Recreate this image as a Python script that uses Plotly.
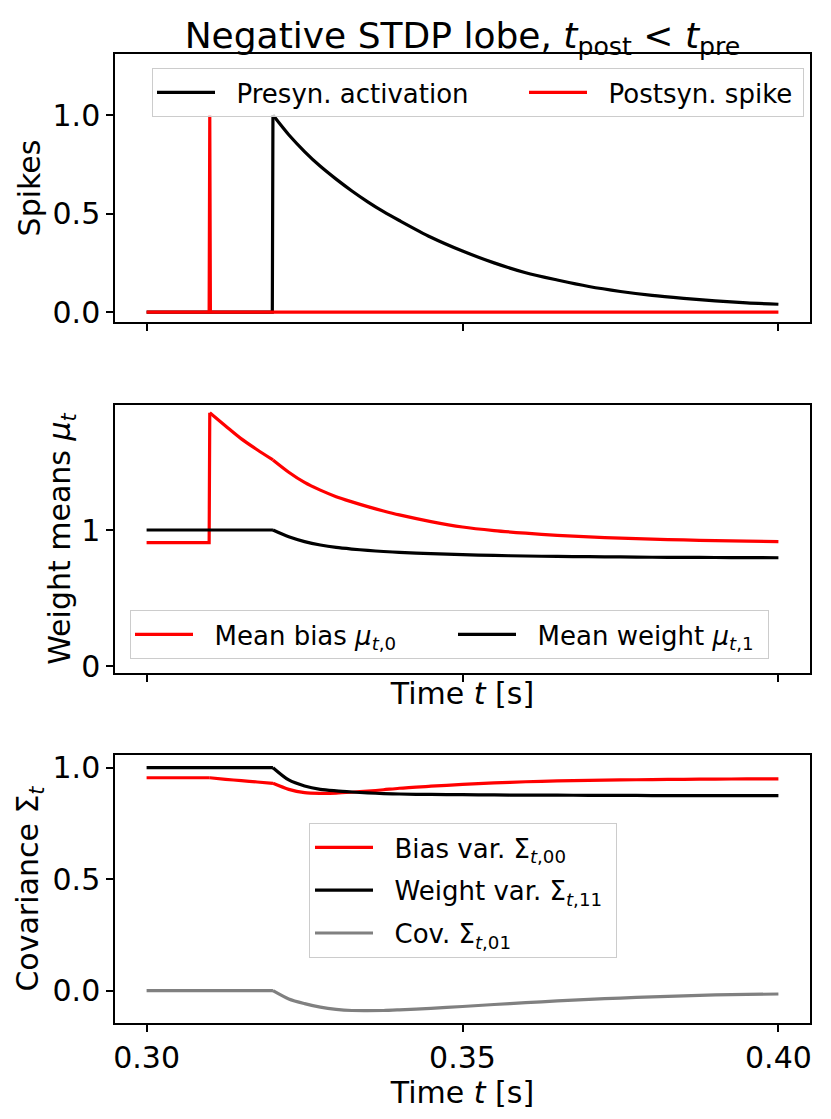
import plotly.graph_objects as go
from plotly.subplots import make_subplots

# --- data ---
t_pre = [0.30, 0.3199, 0.32, 0.3225, 0.325, 0.3275, 0.33, 0.3325, 0.335, 0.3375, 0.34, 0.345,
         0.35, 0.355, 0.36, 0.365, 0.37, 0.375, 0.38, 0.385, 0.39, 0.395, 0.40]
pre_act = [0.0, 0.0, 1.0, 0.90, 0.815, 0.74, 0.675, 0.615, 0.56, 0.51, 0.465, 0.38,
           0.31, 0.25, 0.20, 0.163, 0.13, 0.105, 0.085, 0.07, 0.057, 0.047, 0.04]

t_post = [0.30, 0.3099, 0.31, 0.3101, 0.40]
post_spike = [0.0, 0.0, 1.0, 0.0, 0.0]

t_w = [0.30, 0.3099, 0.31, 0.3125, 0.315, 0.3175, 0.32, 0.3225, 0.325, 0.3275, 0.33, 0.3325,
       0.335, 0.3375, 0.34, 0.345, 0.35, 0.355, 0.36, 0.365, 0.37, 0.375, 0.38, 0.385,
       0.39, 0.395, 0.40]
mu_bias = [0.907, 0.907, 1.862, 1.765, 1.67, 1.59, 1.515, 1.425, 1.35, 1.293, 1.245, 1.207,
           1.172, 1.14, 1.111, 1.062, 1.022, 0.996, 0.977, 0.961, 0.949, 0.94, 0.933, 0.927,
           0.922, 0.918, 0.914]
mu_weight = [1.0, 1.0, 1.0, 1.0, 1.0, 1.0, 1.0, 0.95, 0.915, 0.89, 0.872, 0.86,
             0.85, 0.842, 0.836, 0.826, 0.819, 0.813, 0.809, 0.806, 0.804, 0.802, 0.800, 0.799,
             0.798, 0.797, 0.796]

sig_bias = [0.955, 0.955, 0.955, 0.948, 0.942, 0.936, 0.930, 0.903, 0.888, 0.885, 0.886, 0.890,
            0.895, 0.901, 0.908, 0.917, 0.925, 0.932, 0.937, 0.941, 0.943, 0.945, 0.947, 0.948,
            0.949, 0.9495, 0.950]
sig_weight = [1.0, 1.0, 1.0, 1.0, 1.0, 1.0, 1.0, 0.945, 0.918, 0.903, 0.896, 0.891,
              0.887, 0.884, 0.882, 0.880, 0.879, 0.878, 0.877, 0.877, 0.876, 0.876, 0.875, 0.875,
              0.875, 0.875, 0.875]
sig_cov = [0.0, 0.0, 0.0, 0.0, 0.0, 0.0, 0.0, -0.037, -0.058, -0.074, -0.084, -0.089,
           -0.0895, -0.089, -0.086, -0.079, -0.071, -0.062, -0.054, -0.046, -0.039, -0.033, -0.028, -0.023,
           -0.019, -0.017, -0.015]

x_ticks = [0.30, 0.35, 0.40]
x_ticklabels = ['0.30', '0.35', '0.40']

W, H = 831, 1119
lw = 3.2
fnt = 'DejaVu Sans'
pad = '&nbsp;&nbsp;'

fig = make_subplots(rows=3, cols=1)


def add_curve(x, y, row, name, color, legend, cuts, lwidth=None):
    # straight pieces for steps/jumps, smooth pieces for the decays;
    # cuts = list of (start, stop, shape) index ranges into x/y
    for k, (a, b, shape) in enumerate(cuts):
        fig.add_trace(go.Scatter(x=x[a:b], y=y[a:b], mode='lines', name=pad + name,
                                 line=dict(color=color, width=lw, shape=shape, smoothing=0.8),
                                 legend=legend, legendgroup=name, showlegend=(k == 0),
                                 legendwidth=lwidth), row=row, col=1)


add_curve(t_pre, pre_act, 1, 'Presyn. activation', 'black', 'legend',
          [(0, 3, 'linear'), (2, None, 'spline')], lwidth=299)
add_curve(t_post, post_spike, 1, 'Postsyn. spike', 'red', 'legend',
          [(0, None, 'linear')], lwidth=206)

add_curve(t_w, mu_bias, 2, 'Mean bias <i>μ</i><sub><i>t</i>,0</sub>', 'red', 'legend2',
          [(0, 3, 'linear'), (2, 7, 'spline'), (6, None, 'spline')], lwidth=250)
add_curve(t_w, mu_weight, 2, 'Mean weight <i>μ</i><sub><i>t</i>,1</sub>', 'black', 'legend2',
          [(0, 7, 'linear'), (6, None, 'spline')], lwidth=242)

add_curve(t_w, sig_bias, 3, 'Bias var. Σ<sub><i>t</i>,00</sub>', 'red', 'legend3',
          [(0, 3, 'linear'), (2, 7, 'spline'), (6, None, 'spline')])
add_curve(t_w, sig_weight, 3, 'Weight var. Σ<sub><i>t</i>,11</sub>&nbsp;', 'black', 'legend3',
          [(0, 7, 'linear'), (6, None, 'spline')])
add_curve(t_w, sig_cov, 3, 'Cov. Σ<sub><i>t</i>,01</sub>', 'gray', 'legend3',
          [(0, 7, 'linear'), (6, None, 'spline')])

# panel boxes, measured in pixels from the reference
xdom = [115 / W, 810 / W]
ydoms = [[1 - 322 / H, 1 - 54 / H], [1 - 673 / H, 1 - 405 / H], [1 - 1023 / H, 1 - 755 / H]]

axis_style = dict(showline=True, mirror=True, linecolor='black', linewidth=1.5, ticks='outside',
                  ticklen=7, tickwidth=1.5, tickcolor='black', showgrid=False, zeroline=False,
                  tickfont=dict(size=30, color='black'))

for i in range(3):
    fig.update_xaxes(row=i + 1, col=1, domain=xdom, range=[0.295, 0.405], tickvals=x_ticks,
                     ticktext=x_ticklabels, showticklabels=(i == 2), **axis_style)
    fig.update_yaxes(row=i + 1, col=1, domain=ydoms[i], **axis_style)

fig.update_xaxes(row=2, col=1, title=dict(text='Time <i>t</i> [s]', font=dict(size=30), standoff=2))
fig.update_xaxes(row=3, col=1, title=dict(text='Time <i>t</i> [s]', font=dict(size=30), standoff=7))

fig.update_yaxes(row=1, col=1, range=[-0.05, 1.31], tickvals=[0, 0.5, 1.0], tickformat='.1f',
                 title=dict(text='Spikes', font=dict(size=30), standoff=3))
fig.update_yaxes(row=2, col=1, range=[-0.051, 1.919], tickvals=[0, 1],
                 title=dict(text='Weight means <i>μ</i><sub><i>t</i></sub>', font=dict(size=30), standoff=0))
fig.update_yaxes(row=3, col=1, range=[-0.145, 1.057], tickvals=[0, 0.5, 1.0], tickformat='.1f',
                 title=dict(text='Covariance Σ<sub><i>t</i></sub>', font=dict(size=30), standoff=5))

leg = dict(bgcolor='rgba(255,255,255,0.8)', bordercolor='#cccccc', borderwidth=1,
           font=dict(size=26, color='black'), xref='paper', yref='paper',
           xanchor='left', yanchor='top', itemwidth=58)

fig.update_layout(
    width=W, height=H, margin=dict(l=0, r=0, t=0, b=0, autoexpand=False),
    paper_bgcolor='white', plot_bgcolor='white',
    font=dict(family=fnt, color='black'),
    title=dict(text='Negative STDP lobe, <i>t</i><sub>post</sub> &lt; <i>t</i><sub>pre</sub>',
               x=462.5 / W, xanchor='center', y=1 - 35 / H, yanchor='middle', font=dict(size=36)),
    legend=dict(x=152 / W, y=1 - 68 / H, orientation='h', **leg),
    legend2=dict(x=130 / W, y=1 - 610 / H, orientation='h', **leg),
    legend3=dict(x=309 / W, y=1 - 823 / H, orientation='v', tracegroupgap=6, **leg),
)

fig.write_html("out.html", config={'displayModeBar': False},
               post_script="document.body.style.margin='0';")
